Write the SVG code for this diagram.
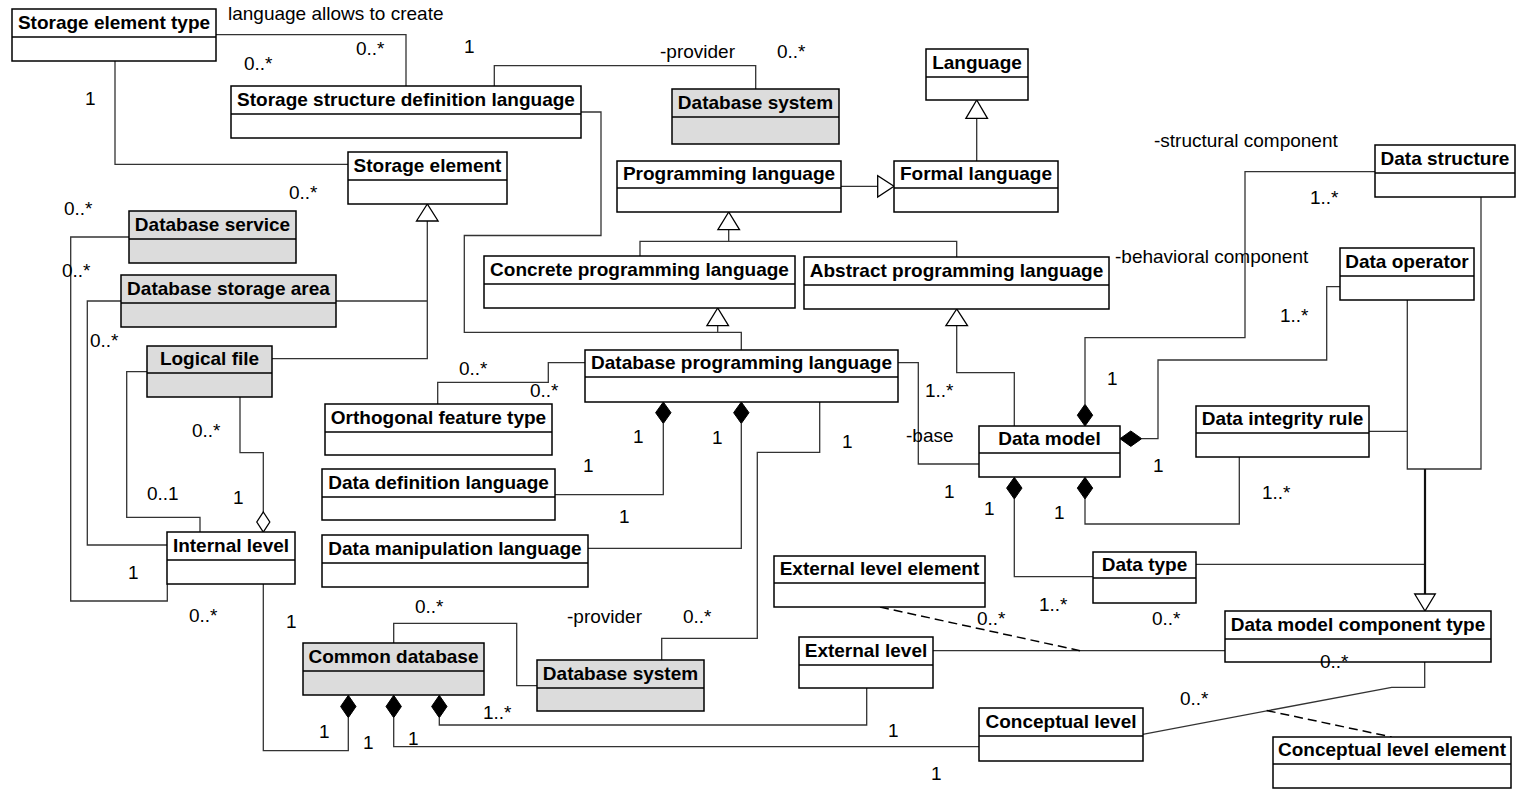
<svg xmlns="http://www.w3.org/2000/svg" width="1517" height="795" viewBox="0 0 1517 795">
  <style>
    .box { fill: #ffffff; stroke: #000000; stroke-width: 1.5; }
    .gray { fill: #dcdcdc; }
    .div { stroke: #000000; stroke-width: 1.5; }
    .name { font-family: "Liberation Sans", Arial, sans-serif; font-weight: bold; font-size: 19px; text-anchor: middle; fill: #000; }
    .lbl { font-family: "Liberation Sans", Arial, sans-serif; font-size: 19px; fill: #000; }
    .c { fill: none; stroke: #333333; stroke-width: 1.3; }
    .thick { fill: none; stroke: #111111; stroke-width: 2.2; }
    .dash { fill: none; stroke: #000000; stroke-width: 1.5; stroke-dasharray: 9 5; }
    .tri { fill: #ffffff; stroke: #000000; stroke-width: 1.3; }
    .fd { fill: #000000; stroke: #000000; stroke-width: 1; }
    .hd { fill: #ffffff; stroke: #000000; stroke-width: 1.3; }
  </style>

  <!-- connectors -->
  <g id="connectors">
    <!-- associations -->
    <path class="c" d="M216,34.7 H406 V86"/>
    <path class="c" d="M115,61 V164.3 H348"/>
    <path class="c" d="M494.3,86 V65.7 H755.7 V89"/>
    <path class="c" d="M581,112 H601 V235.5 H464.3 V332.3 H717.7"/>
    <path class="c" d="M129,237 H70.7 V601 H167.3 V584"/>
    <path class="c" d="M121,301 H87.3 V545 H167"/>
    <path class="c" d="M147,371.7 H126.7 V517.3 H200 V532"/>
    <path class="c" d="M240,397 V452.7 H263.3 V512"/>
    <path class="c" d="M585,362.7 H548.3 V382.3 H437.7 V404"/>
    <path class="c" d="M663.3,423.5 V494.7 H555"/>
    <path class="c" d="M741.3,423.5 V548.3 H588"/>
    <path class="c" d="M819.7,402 V452.3 H757.3 V638.3 H661.7 V660"/>
    <path class="c" d="M898,362.7 H918.3 V464 H979"/>
    <path class="c" d="M1085,404.3 V337.7 H1245 V171.7 H1375"/>
    <path class="c" d="M1141.7,438.7 H1158 V360 H1326.7 V286.7 H1340"/>
    <path class="c" d="M1085,499 V524 H1239.3 V457"/>
    <path class="c" d="M1014.3,499 V576.7 H1093"/>
    <path class="c" d="M1225,650.7 H933"/>
    <path class="c" d="M1424.7,662 V687.3 H1391.7 L1142.7,734.3"/>
    <path class="c" d="M393.7,643 V623.3 H516.7 V685.7 H537"/>
    <path class="c" d="M263.3,584 V750.7 H348.3 V717.7"/>
    <path class="c" d="M866.7,688 V725 H439.3 V717.7"/>
    <path class="c" d="M979,746.7 H393.7 V717.7"/>
    <!-- association classes -->
    <path class="dash" d="M880,607 L1080,650.7"/>
    <path class="dash" d="M1266.7,710.5 L1391.7,737"/>

    <!-- generalizations -->
    <path class="c" d="M741.3,350 V332.3 H717.7 V325.7"/>
    <polygon class="tri" points="717.7,308 706.9,325.7 728.5,325.7"/>
    <path class="c" d="M841,186.3 H877.7"/>
    <polygon class="tri" points="894,186.3 877.7,175.6 877.7,197"/>
    <path class="c" d="M976.7,161 V118.3"/>
    <polygon class="tri" points="976.7,100 965.9,118.3 987.5,118.3"/>
    <path class="c" d="M640,256 V241.3 H956.7 V257 M728.7,241.3 V229.7"/>
    <polygon class="tri" points="728.7,212 717.9,229.7 739.5,229.7"/>
    <path class="c" d="M1014.3,426 V372.7 H956.7 V325.7"/>
    <polygon class="tri" points="956.7,309 945.9,325.7 967.5,325.7"/>
    <path class="c" d="M427.3,221 V358.7 H272 M336,301 H427.3"/>
    <polygon class="tri" points="427.3,204 416.5,221 438.1,221"/>
    <path class="c" d="M1481,197 V469 H1407.3 V300 M1369,431.3 H1407.3 M1196,564.3 H1425"/>
    <path class="thick" d="M1425,469 V594"/>
    <polygon class="tri" points="1425,611 1414.7,594 1435.3,594"/>

    <!-- composition / aggregation diamonds -->
    <polygon class="hd" points="263.3,512 269.8,522 263.3,532 256.8,522"/>
    <polygon class="fd" points="663.3,402 671,412.7 663.3,423.5 655.6,412.7"/>
    <polygon class="fd" points="741.3,402 749,412.7 741.3,423.5 733.6,412.7"/>
    <polygon class="fd" points="1085,426 1092.7,415.2 1085,404.3 1077.3,415.2"/>
    <polygon class="fd" points="1120,438.7 1130.8,431 1141.7,438.7 1130.8,446.4"/>
    <polygon class="fd" points="1085,477.3 1092.7,488.1 1085,499 1077.3,488.1"/>
    <polygon class="fd" points="1014.3,477.3 1022,488.1 1014.3,499 1006.6,488.1"/>
    <polygon class="fd" points="348.3,695.3 356,706.5 348.3,717.7 340.6,706.5"/>
    <polygon class="fd" points="393.7,695.3 401.4,706.5 393.7,717.7 386,706.5"/>
    <polygon class="fd" points="439.3,695.3 447,706.5 439.3,717.7 431.6,706.5"/>
  </g>

  <!-- classes -->
  <g id="storage-element-type"><rect class="box" x="12" y="9" width="204" height="52"/><line class="div" x1="12" y1="37" x2="216" y2="37"/><text class="name" x="114" y="28.5">Storage element type</text></g>
  <g id="storage-structure-definition-language"><rect class="box" x="231" y="86" width="350" height="52"/><line class="div" x1="231" y1="114" x2="581" y2="114"/><text class="name" x="406" y="105.5">Storage structure definition language</text></g>
  <g id="database-system-provider"><rect class="box gray" x="672" y="89" width="167" height="55"/><line class="div" x1="672" y1="117" x2="839" y2="117"/><text class="name" x="755.5" y="108.5">Database system</text></g>
  <g id="language"><rect class="box" x="926" y="49" width="102" height="51"/><line class="div" x1="926" y1="77" x2="1028" y2="77"/><text class="name" x="977" y="68.5">Language</text></g>
  <g id="storage-element"><rect class="box" x="348" y="152" width="159" height="52"/><line class="div" x1="348" y1="180" x2="507" y2="180"/><text class="name" x="427.5" y="171.5">Storage element</text></g>
  <g id="programming-language"><rect class="box" x="617" y="161" width="224" height="51"/><line class="div" x1="617" y1="188" x2="841" y2="188"/><text class="name" x="729" y="180">Programming language</text></g>
  <g id="formal-language"><rect class="box" x="894" y="161" width="164" height="51"/><line class="div" x1="894" y1="188" x2="1058" y2="188"/><text class="name" x="976" y="180">Formal language</text></g>
  <g id="data-structure"><rect class="box" x="1375" y="145" width="140" height="52"/><line class="div" x1="1375" y1="173" x2="1515" y2="173"/><text class="name" x="1445" y="164.5">Data structure</text></g>
  <g id="database-service"><rect class="box gray" x="129" y="211" width="167" height="52"/><line class="div" x1="129" y1="239" x2="296" y2="239"/><text class="name" x="212.5" y="230.5">Database service</text></g>
  <g id="concrete-programming-language"><rect class="box" x="484" y="256" width="311" height="52"/><line class="div" x1="484" y1="284" x2="795" y2="284"/><text class="name" x="639.5" y="275.5">Concrete programming language</text></g>
  <g id="abstract-programming-language"><rect class="box" x="804" y="257" width="305" height="52"/><line class="div" x1="804" y1="285" x2="1109" y2="285"/><text class="name" x="956.5" y="276.5">Abstract programming language</text></g>
  <g id="data-operator"><rect class="box" x="1340" y="248" width="134" height="52"/><line class="div" x1="1340" y1="276" x2="1474" y2="276"/><text class="name" x="1407" y="267.5">Data operator</text></g>
  <g id="database-storage-area"><rect class="box gray" x="121" y="275" width="215" height="52"/><line class="div" x1="121" y1="303" x2="336" y2="303"/><text class="name" x="228.5" y="294.5">Database storage area</text></g>
  <g id="logical-file"><rect class="box gray" x="147" y="346" width="125" height="51"/><line class="div" x1="147" y1="373" x2="272" y2="373"/><text class="name" x="209.5" y="365">Logical file</text></g>
  <g id="database-programming-language"><rect class="box" x="585" y="350" width="313" height="52"/><line class="div" x1="585" y1="377" x2="898" y2="377"/><text class="name" x="741.5" y="369">Database programming language</text></g>
  <g id="orthogonal-feature-type"><rect class="box" x="325" y="404" width="227" height="51"/><line class="div" x1="325" y1="432" x2="552" y2="432"/><text class="name" x="438.5" y="423.5">Orthogonal feature type</text></g>
  <g id="data-model"><rect class="box" x="979" y="426" width="141" height="51"/><line class="div" x1="979" y1="453" x2="1120" y2="453"/><text class="name" x="1049.5" y="445">Data model</text></g>
  <g id="data-integrity-rule"><rect class="box" x="1196" y="406" width="173" height="51"/><line class="div" x1="1196" y1="433" x2="1369" y2="433"/><text class="name" x="1282.5" y="425">Data integrity rule</text></g>
  <g id="data-definition-language"><rect class="box" x="322" y="469" width="233" height="51"/><line class="div" x1="322" y1="497" x2="555" y2="497"/><text class="name" x="438.5" y="488.5">Data definition language</text></g>
  <g id="internal-level"><rect class="box" x="167" y="532" width="128" height="52"/><line class="div" x1="167" y1="560" x2="295" y2="560"/><text class="name" x="231" y="551.5">Internal level</text></g>
  <g id="data-manipulation-language"><rect class="box" x="322" y="535" width="266" height="52"/><line class="div" x1="322" y1="563" x2="588" y2="563"/><text class="name" x="455" y="554.5">Data manipulation language</text></g>
  <g id="external-level-element"><rect class="box" x="774" y="556" width="211" height="51"/><line class="div" x1="774" y1="583" x2="985" y2="583"/><text class="name" x="879.5" y="575">External level element</text></g>
  <g id="data-type"><rect class="box" x="1093" y="552" width="103" height="51"/><line class="div" x1="1093" y1="578" x2="1196" y2="578"/><text class="name" x="1144.5" y="571">Data type</text></g>
  <g id="data-model-component-type"><rect class="box" x="1225" y="611" width="266" height="51"/><line class="div" x1="1225" y1="639" x2="1491" y2="639"/><text class="name" x="1358" y="630.5">Data model component type</text></g>
  <g id="external-level"><rect class="box" x="799" y="637" width="134" height="51"/><line class="div" x1="799" y1="665" x2="933" y2="665"/><text class="name" x="866" y="656.5">External level</text></g>
  <g id="common-database"><rect class="box gray" x="303" y="643" width="181" height="52"/><line class="div" x1="303" y1="671" x2="484" y2="671"/><text class="name" x="393.5" y="662.5">Common database</text></g>
  <g id="database-system-client"><rect class="box gray" x="537" y="660" width="167" height="51"/><line class="div" x1="537" y1="688" x2="704" y2="688"/><text class="name" x="620.5" y="679.5">Database system</text></g>
  <g id="conceptual-level"><rect class="box" x="979" y="708" width="164" height="53"/><line class="div" x1="979" y1="736" x2="1143" y2="736"/><text class="name" x="1061" y="727.5">Conceptual level</text></g>
  <g id="conceptual-level-element"><rect class="box" x="1273" y="737" width="238" height="51"/><line class="div" x1="1273" y1="764" x2="1511" y2="764"/><text class="name" x="1392" y="756">Conceptual level element</text></g>

  <!-- connector labels and multiplicities, drawn last so they sit on top -->
  <g id="labels" class="lbl">
    <text x="228" y="20">language allows to create</text>
    <text x="356" y="55">0..*</text>
    <text x="244" y="70">0..*</text>
    <text x="464" y="53">1</text>
    <text x="85" y="105">1</text>
    <text x="660" y="58">-provider</text>
    <text x="777" y="58">0..*</text>
    <text x="289" y="199">0..*</text>
    <text x="64" y="215">0..*</text>
    <text x="1154" y="147">-structural component</text>
    <text x="1310" y="204">1..*</text>
    <text x="1115" y="263">-behavioral component</text>
    <text x="62" y="277">0..*</text>
    <text x="90" y="347">0..*</text>
    <text x="1280" y="322">1..*</text>
    <text x="459" y="375">0..*</text>
    <text x="530" y="397">0..*</text>
    <text x="925" y="397">1..*</text>
    <text x="1107" y="385">1</text>
    <text x="192" y="437">0..*</text>
    <text x="633" y="443">1</text>
    <text x="712" y="444">1</text>
    <text x="842" y="448">1</text>
    <text x="906" y="442">-base</text>
    <text x="1153" y="472">1</text>
    <text x="583" y="472">1</text>
    <text x="944" y="498">1</text>
    <text x="1262" y="499">1..*</text>
    <text x="147" y="500">0..1</text>
    <text x="233" y="504">1</text>
    <text x="984" y="515">1</text>
    <text x="1054" y="519">1</text>
    <text x="619" y="523">1</text>
    <text x="128" y="579">1</text>
    <text x="1039" y="611">1..*</text>
    <text x="189" y="622">0..*</text>
    <text x="286" y="628">1</text>
    <text x="567" y="623">-provider</text>
    <text x="683" y="623">0..*</text>
    <text x="415" y="613">0..*</text>
    <text x="977" y="625">0..*</text>
    <text x="1152" y="625">0..*</text>
    <text x="1320" y="668">0..*</text>
    <text x="1180" y="705">0..*</text>
    <text x="483" y="719">1..*</text>
    <text x="888" y="737">1</text>
    <text x="319" y="738">1</text>
    <text x="363" y="749">1</text>
    <text x="408" y="745">1</text>
    <text x="931" y="780">1</text>
  </g>
</svg>
